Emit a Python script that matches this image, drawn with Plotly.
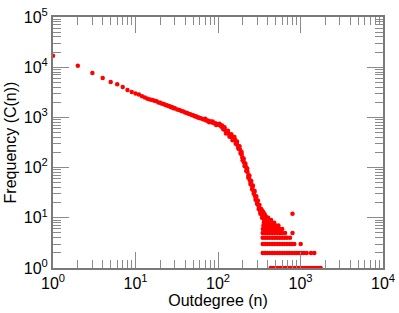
import plotly.graph_objects as go

# ---- main sequence (outdegree n, frequency C(n)) ----
deg_main = [1, 2, 3, 4, 5, 6, 7, 8, 9, 10, 11, 12, 13, 14, 15, 16, 17, 18, 19, 20,
            21, 22, 23, 24, 25, 26, 27, 28, 29, 30, 32, 34, 36, 38, 40, 42, 44, 46, 48, 50,
            52, 54, 56, 58, 60, 63, 66, 69, 72, 75, 78, 81, 84, 87, 90, 93, 96, 100, 103, 106,
            109, 112, 115, 118, 122, 126, 130, 134, 138, 142, 147, 152, 157, 161, 165, 169, 173, 177, 181, 185,
            189, 193, 197, 201, 205, 209, 213, 218, 223, 228, 233, 238, 244, 250, 256, 262, 268, 275, 282, 288,
            294, 300, 308, 315, 323, 330, 338, 346, 354]
freq_main = [17000, 10700, 7650, 6100, 5100, 4550, 4050, 3500, 3200, 3000, 2850, 2640, 2480, 2360, 2280, 2220, 2150, 2090, 1990, 1960,
             1880, 1850, 1770, 1750, 1680, 1665, 1600, 1590, 1530, 1520, 1440, 1405, 1335, 1310, 1250, 1230, 1178, 1160, 1115, 1100,
             1060, 1050, 1012, 1000, 968, 955, 915, 906, 872, 865, 834, 828, 800, 794, 768, 766, 740, 732, 712, 708,
             670, 650, 610, 598, 556, 538, 498, 486, 452, 442, 408, 395, 364, 358, 322, 310, 276, 265, 236, 228,
             198, 184, 160, 152, 130, 125, 109, 103, 88, 82, 70, 65, 56, 51, 44, 41, 35, 32, 27, 25.5,
             22, 21, 17.5, 16.5, 14, 13, 12, 11, 10]

# ---- scatter around the bend and the steep part of the curve ----
deg_spread = [70, 78, 86, 95, 104, 112, 116, 120, 125, 132, 138, 145, 150, 158, 164, 170, 176, 182, 188, 193, 199,
              205, 210, 215, 220, 226, 233, 240, 247, 253, 259, 265, 271, 278, 285, 291, 297, 304, 311, 318, 326,
              334, 342, 350, 360, 375, 395, 412]
freq_spread = [940, 800, 830, 705, 745, 690, 580, 640, 480, 540, 410, 460, 350, 405, 300, 330, 240, 265, 190, 205, 140,
               150, 108, 120, 86, 96, 63, 70, 47, 54, 37, 44, 30, 34, 23, 27, 19, 22, 15, 18, 12,
               15, 10, 13, 12, 11, 10, 9]

# ---- tail: degrees observed at small integer frequencies ----
tail_counts = [1, 2, 3, 4, 5, 6, 7, 8, 9, 10, 11, 12, 13, 14]
tail_degrees = [
    [435, 466, 498, 533, 571, 611, 654, 700, 749, 802, 858, 918, 983, 1052, 1126, 1205, 1290, 1380, 1477, 1581, 1692, 1757],
    [348, 372, 398, 426, 456, 488, 522, 559, 598, 640, 685, 733, 784, 839, 898, 961, 1028, 1100, 1190, 1340, 1470],
    [348, 372, 398, 426, 456, 488, 522, 559, 598, 640, 685, 733, 784, 841, 1005],
    [348, 372, 398, 426, 456, 488, 522, 559, 598, 640, 685, 746],
    [348, 372, 398, 426, 456, 488, 522, 559, 598, 650, 800],
    [350, 374, 400, 428, 458, 490, 525, 562, 600],
    [355, 380, 406, 434, 465, 500, 540],
    [360, 385, 412, 441, 480],
    [362, 388, 415, 440],
    [358, 380, 405],
    [352, 372],
    [345, 365, 800],
    [335, 352],
    [325, 342],
]

xs = list(deg_main) + list(deg_spread)
ys = list(freq_main) + list(freq_spread)
for c, degs in zip(tail_counts, tail_degrees):
    xs += degs
    ys += [c] * len(degs)

x_tickvals = [1, 10, 100, 1000, 10000]
x_ticktext = ["10<sup>0</sup>", "10<sup>1</sup>", "10<sup>2</sup>", "10<sup>3</sup>", "10<sup>4</sup>"]
y_tickvals = [1, 10, 100, 1000, 10000, 100000]
y_ticktext = ["10<sup>0</sup>", "10<sup>1</sup>", "10<sup>2</sup>", "10<sup>3</sup>", "10<sup>4</sup>", "10<sup>5</sup>"]

FONT = "Liberation Sans, Arial, Helvetica, sans-serif"
TICK = "#8a8a8a"

fig = go.Figure()
fig.add_trace(go.Scatter(
    x=xs, y=ys, mode="markers",
    marker=dict(color="#ff0000", size=4.5, line=dict(width=0)),
    showlegend=False, hoverinfo="skip",
))

def minor_vals(nd):
    return [d * 10 ** k for k in range(nd) for d in range(2, 10)]

common = dict(
    type="log", showgrid=False, zeroline=False,
    ticks="inside", ticklen=16, tickwidth=1, tickcolor=TICK,
    showline=True, linecolor="#7a7a7a", linewidth=2, mirror="ticks",
    tickfont=dict(family=FONT, size=16, color="black"),
)

fig.update_xaxes(
    **common, range=[0, 4], tickmode="array", tickvals=x_tickvals, ticktext=x_ticktext,
    minor=dict(tickmode="array", tickvals=minor_vals(4), ticks="inside", ticklen=8,
               tickcolor=TICK, tickwidth=1, showgrid=False),
    title=dict(text="Outdegree (n)", font=dict(family=FONT, size=16, color="black"), standoff=1),
)
fig.update_yaxes(
    **common, range=[0, 5], tickmode="array", tickvals=y_tickvals, ticktext=y_ticktext,
    minor=dict(tickmode="array", tickvals=minor_vals(5), ticks="inside", ticklen=8,
               tickcolor=TICK, tickwidth=1, showgrid=False),
    title=dict(text="Frequency (C(n))", font=dict(family=FONT, size=16, color="black"), standoff=3),
)

fig.update_layout(
    width=399, height=313,
    margin=dict(l=53, r=16, t=17, b=45, autoexpand=False),
    paper_bgcolor="white", plot_bgcolor="white",
)

fig.write_html(
    "out.html",
    config={"displayModeBar": False, "staticPlot": True},
    post_script="document.body.style.margin='0';document.body.style.overflow='hidden';",
)
